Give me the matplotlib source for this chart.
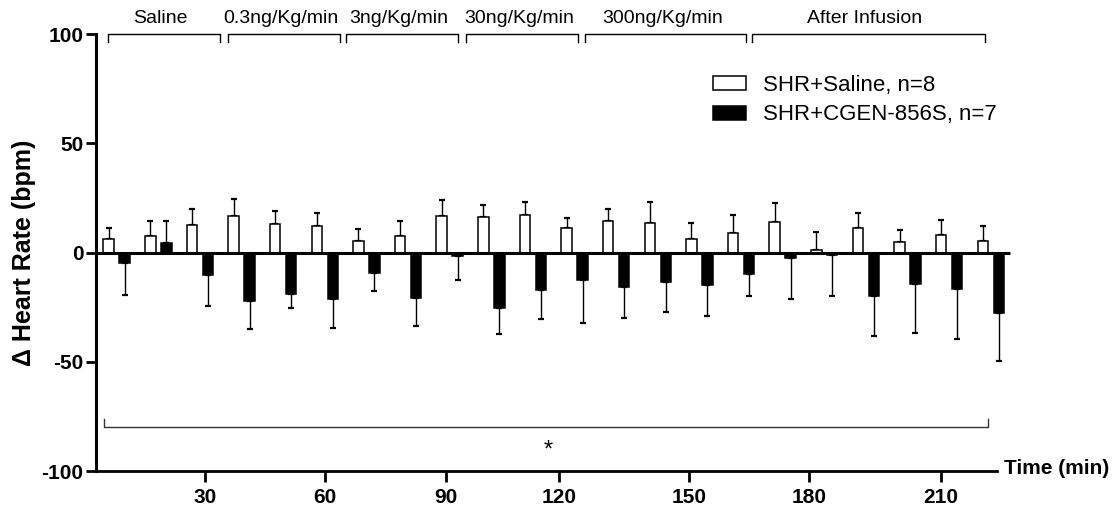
import matplotlib
matplotlib.use("Agg")
import matplotlib.pyplot as plt
import numpy as np
from matplotlib.patches import Patch

plt.rcParams['font.family'] = ['Liberation Sans', 'DejaVu Sans']

# ---------------- data ----------------
times = [10, 20, 30, 40, 50, 60, 70, 80, 90, 100, 110,
         120, 130, 140, 150, 160, 170, 180, 190, 200, 210, 220]
saline_mean = [6.1, 7.6, 12.8, 16.8, 13.0, 12.1, 5.3, 7.6, 16.6, 16.3, 17.1,
               11.0, 14.3, 13.7, 6.4, 8.8, 14.0, 1.2, 11.0, 4.6, 8.2, 5.2]
saline_sem = [5.3, 6.9, 7.3, 7.9, 6.2, 6.1, 5.4, 6.9, 7.4, 5.5, 6.1,
              4.7, 5.8, 9.3, 7.3, 8.3, 8.7, 8.0, 7.2, 5.8, 6.8, 6.9]
cgen_mean = [-4.9, 4.3, -10.4, -22.3, -18.8, -21.4, -9.6, -20.9, -1.5, -25.5, -17.2,
             -12.7, -15.7, -13.3, -15.0, -9.8, -2.3, -1.2, -20.1, -14.5, -16.6, -27.6]
cgen_sem = [14.6, 10.0, 14.0, 12.8, 6.7, 13.1, 8.1, 12.7, 11.2, 11.9, 13.3,
            19.5, 14.4, 14.0, 14.1, 10.0, 18.8, 18.9, 18.3, 22.4, 22.9, 22.1]
series_labels = ['SHR+Saline, n=8', 'SHR+CGEN-856S, n=7']

tick_labels = ['30', '60', '90', '120', '150', '180', '210']
tick_pos = [31.2, 60.1, 89.1, 116.3, 147.5, 176.4, 208.0]

phase_labels = ['Saline', '0.3ng/Kg/min', '3ng/Kg/min', '30ng/Kg/min',
                '300ng/Kg/min', 'After Infusion']
phase_start = [7.9, 36.8, 65.1, 94.0, 122.4, 162.7]
phase_end = [34.9, 63.7, 92.1, 120.9, 161.3, 218.5]

# ---------------- figure ----------------
W, H = 1117, 511
fig = plt.figure(figsize=(W / 100, H / 100), dpi=100)
ax = fig.add_axes([96 / W, 40 / H, 901 / W, 437 / H])
xmin, xmax = 5.04, 221.5
ax.set_xlim(xmin, xmax)
ax.set_ylim(-100, 100)

t = np.array(times, dtype=float)
bw = 2.52
off = 1.92


def one_sided(mean, sem):
    mean = np.asarray(mean)
    sem = np.asarray(sem)
    lo = np.where(mean < 0, sem, 0.0)
    hi = np.where(mean >= 0, sem, 0.0)
    return [lo, hi]


b1 = ax.bar(t - off, saline_mean, bw, color='white', edgecolor='black', linewidth=1.1,
            zorder=3, label=series_labels[0])
b2 = ax.bar(t + off, cgen_mean, bw, color='black', edgecolor='black', linewidth=1.1,
            zorder=3, label=series_labels[1])
for p in list(b1) + list(b2):
    p.set_clip_on(False)
e1 = ax.errorbar(t - off, saline_mean, yerr=one_sided(saline_mean, saline_sem), fmt='none',
                 ecolor='black', elinewidth=1.0, capsize=2.3, capthick=1.6, zorder=2)
e2 = ax.errorbar(t + off, cgen_mean, yerr=one_sided(cgen_mean, cgen_sem), fmt='none',
                 ecolor='black', elinewidth=1.0, capsize=2.3, capthick=1.6, zorder=2)
for e in (e1, e2):
    for a in e.get_children():
        a.set_clip_on(False)

# zero line
ax.plot([xmin, 224.6], [0, 0], color='black', lw=2.2, clip_on=False, zorder=5,
        solid_capstyle='butt')

# spines and ticks
for s in ['top', 'right']:
    ax.spines[s].set_visible(False)
ax.spines['left'].set_linewidth(2.2)
ax.spines['bottom'].set_linewidth(2.0)
ax.set_yticks([-100, -50, 0, 50, 100])
ax.set_yticklabels(['-100', '-50', '0', '50', '100'])
ax.set_xticks(tick_pos)
ax.set_xticklabels(tick_labels)
ax.tick_params(axis='y', direction='out', length=7.5, width=2.0, pad=1.5,
               labelsize=15)
ax.tick_params(axis='x', direction='out', length=8, width=2.0, pad=4,
               labelsize=15)
for lab in ax.get_xticklabels() + ax.get_yticklabels():
    lab.set_fontweight('bold')

# top brackets
for lab, a, b in zip(phase_labels, phase_start, phase_end):
    ax.plot([a, a, b, b], [96.2, 100, 100, 96.2], color='black', lw=1.0,
            clip_on=False, zorder=4)
    ax.text((a + b) / 2 - 0.8, 107.2, lab, ha='center', va='center', fontsize=14,
            clip_on=False)

# bottom significance bracket
ax.plot([6.95, 6.95, 219.3, 219.3], [-76.3, -80, -80, -76.3], color='#333333',
        lw=1.0, clip_on=False, zorder=4)
ax.text(113.6, -90.5, '*', ha='center', va='center', fontsize=17)

# labels
fig.text(24 / W, 1 - 252.5 / H, 'Δ Heart Rate (bpm)', rotation=90, ha='center',
         va='center', fontsize=18, fontweight='bold')
fig.text(1004 / W, 1 - 468 / H, 'Time (min)', ha='left', va='center', fontsize=15,
         fontweight='bold')

# legend
handles = [Patch(facecolor='white', edgecolor='black', linewidth=1.1),
           Patch(facecolor='black', edgecolor='black', linewidth=1.1)]
fig.legend(handles, series_labels, loc='center left',
           bbox_to_anchor=(713 / W, 1 - 100 / H), frameon=False, fontsize=16,
           handlelength=1.5, handleheight=0.6, handletextpad=0.75,
           labelspacing=0.4, borderpad=0, borderaxespad=0)

fig.savefig('out.png', dpi=100, facecolor='white')
